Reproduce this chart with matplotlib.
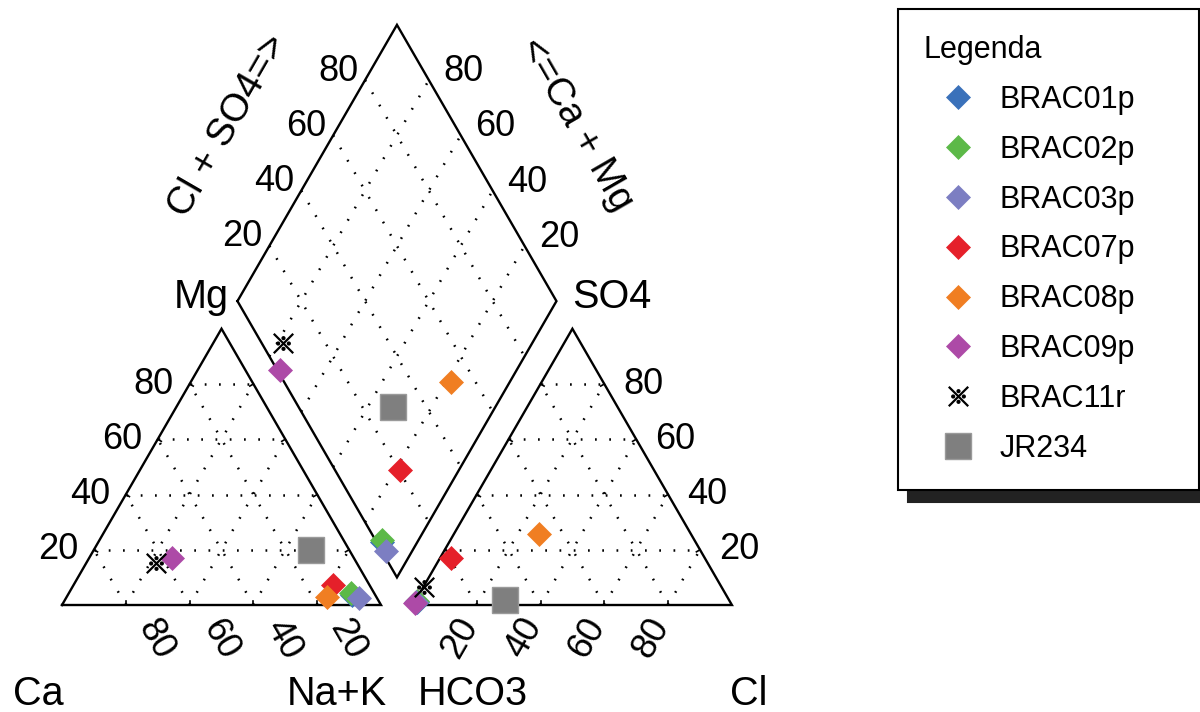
import numpy as np
import matplotlib
matplotlib.use('Agg')
import matplotlib.pyplot as plt
from matplotlib.lines import Line2D
from matplotlib.path import Path

plt.rcParams['font.family'] = ['Liberation Sans', 'DejaVu Sans']

# amostras (% meq)
samples = ['BRAC01p', 'BRAC02p', 'BRAC03p', 'BRAC07p', 'BRAC08p',
           'BRAC09p', 'BRAC11r', 'JR234']
ca = [7.5, 7.2, 5.5, 11.3, 15.4, 57.0, 63.0, 12.1]
mg = [3.5, 4.3, 2.5, 7.2, 2.9, 17.0, 15.2, 19.9]
nak = [89.0, 88.5, 92.0, 81.5, 81.7, 26.0, 21.8, 68.0]
hco3 = [98.2, 98.0, 98.6, 79.5, 47.7, 99.1, 93.2, 70.2]
so4 = [1.2, 1.5, 1.0, 17.0, 25.7, 0.8, 6.6, 1.8]
cl = [0.6, 0.5, 0.4, 3.5, 26.6, 0.1, 0.2, 28.0]
ticks = [20, 40, 60, 80]

colors = ['#3a71ba', '#5cb948', '#7c7ec2', '#e5202a', '#f07e22',
          '#ad4aa7', 'black', '#7f7f7f']

H = np.sqrt(3) / 2
GAP = 10


def tri_xy(right, apex, x0=0):
    """ponto num triangulo: componente do vertice direito e do apice"""
    right = np.asarray(right, float)
    apex = np.asarray(apex, float)
    return x0 + right + apex / 2, apex * H


def dia_xy(na, anion):
    """ponto no losango: Na+K e Cl+SO4"""
    na = np.asarray(na, float)
    anion = np.asarray(anion, float)
    lx, ly = 50 + GAP / 2, H * (100 + GAP)
    return lx + 0.5 * (anion + na), ly + H * (anion - na)


# marcador tipo "※"
mark_path = Path.make_compound_path(
    Path([(-1, -1), (1, 1)], [Path.MOVETO, Path.LINETO]),
    Path([(-1, 1), (1, -1)], [Path.MOVETO, Path.LINETO]),
    *[Path.circle(c, 0.1) for c in [(0, 0.55), (0, -0.55), (0.55, 0), (-0.55, 0)]])

fig = plt.figure(figsize=(12, 7.12), dpi=100)
ax = fig.add_axes([0, 0, 1, 1])
ax.set_xlim(-19.44, 356.74)
ax.set_ylim(-33.54, 189.66)
ax.axis('off')

grid = dict(color='black', lw=1.8, ls=(0, (0.7, 5)), zorder=1)
edge = dict(color='black', lw=1.7, zorder=2, solid_joinstyle='miter')

# grades dos triangulos
for x0 in [0, 100 + GAP]:
    for v in ticks:
        ax.plot(*tri_xy([0, 100 - v], [v, v], x0), **grid)
        ax.plot(*tri_xy([v, v], [0, 100 - v], x0), **grid)
        ax.plot(*tri_xy([100 - v, 0], [0, 100 - v], x0), **grid)
    ax.plot(*tri_xy([0, 100, 0, 0], [0, 0, 100, 0], x0), **edge)
    # pequenos tracos nas arestas
    verts = np.array([tri_xy(0, 0, x0), tri_xy(100, 0, x0), tri_xy(0, 100, x0)])
    cen = verts.mean(axis=0)
    for i in range(3):
        p0, p1 = verts[i], verts[(i + 1) % 3]
        d = (p1 - p0) / np.linalg.norm(p1 - p0)
        n = np.array([-d[1], d[0]])
        if np.dot(cen - p0, n) < 0:
            n = -n
        for t in ticks:
            p = p0 + (p1 - p0) * t / 100
            ax.plot([p[0], p[0] + 1.3 * n[0]], [p[1], p[1] + 1.3 * n[1]],
                    color='black', lw=1.2, zorder=2)

# grade do losango
for v in ticks:
    ax.plot(*dia_xy([0, 100], [v, v]), **grid)
    ax.plot(*dia_xy([v, v], [0, 100]), **grid)
ax.plot(*dia_xy([0, 100, 100, 0, 0], [0, 0, 100, 100, 0]), **edge)

# rotulos numericos
fs = 26
for v in ticks:
    x, y = tri_xy(0, v)
    ax.text(x - 5, y, str(v), ha='right', va='center', fontsize=fs)
    x, y = tri_xy(100 - v, 0)
    ax.text(x + 9.5, y - 11, str(v), ha='center', va='center',
            fontsize=fs, rotation=-60)
    x, y = tri_xy(v, 0, 100 + GAP)
    ax.text(x - 5.3, y - 10.3, str(v), ha='center', va='center',
            fontsize=fs, rotation=60)
    x, y = tri_xy(100 - v, v, 100 + GAP)
    ax.text(x + 6, y, str(v), ha='left', va='center', fontsize=fs)
    x, y = dia_xy(0, v)
    ax.text(x - 2.2, y + 2.8, str(v), ha='right', va='center', fontsize=fs)
    x, y = dia_xy(100 - v, 100)
    ax.text(x + 4.5, y + 2.7, str(v), ha='left', va='center', fontsize=fs)

ax.text(52.0, 150.2, 'Cl + SO4=>', rotation=60, ha='center', va='center',
        fontsize=28)
ax.text(161.1, 150.5, '<=Ca + Mg', rotation=-60, ha='center', va='center',
        fontsize=28)

vfs = 28.5
x, y = dia_xy(0, 0)
ax.text(x - 2.8, 93.1, 'Mg', ha='right', va='baseline', fontsize=vfs)
x, y = dia_xy(100, 100)
ax.text(x + 5, 93.1, 'SO4', ha='left', va='baseline', fontsize=vfs)
ax.text(-7.5, -31.3, 'Ca', ha='center', va='baseline', fontsize=vfs)
ax.text(100 - 14.0, -31.3, 'Na+K', ha='center', va='baseline', fontsize=vfs)
ax.text(110 + 18.8, -31.3, 'HCO3', ha='center', va='baseline', fontsize=vfs)
ax.text(210 + 5.4, -31.3, 'Cl', ha='center', va='baseline', fontsize=vfs)

# pontos
handles = []
for i, name in enumerate(samples):
    if name == 'BRAC11r':
        st = dict(marker=mark_path, ms=14, mfc='black', mec='black', mew=1.6)
    elif name == 'JR234':
        st = dict(marker='s', ms=19, mfc=colors[i], mec='#9a9a9a', mew=1)
    else:
        st = dict(marker='D', ms=12.5, mfc=colors[i], mec=colors[i], mew=0.5)
    xs1, ys1 = tri_xy(nak[i], mg[i])
    xs2, ys2 = tri_xy(cl[i], so4[i], 100 + GAP)
    xs3, ys3 = dia_xy(nak[i], cl[i] + so4[i])
    ax.plot([xs1, xs2, xs3], [ys1, ys2, ys3], ls='none', zorder=5 + i, **st)
    handles.append(Line2D([], [], ls='none', label=name, **st))

leg = fig.legend(handles=handles, title='Legenda', loc='upper left',
                 bbox_to_anchor=(898 / 1200, 0.5, 301 / 1200, 1 - 9 / 712 - 0.5),
                 mode='expand', borderaxespad=0, fontsize=22, title_fontsize=22,
                 alignment='left', frameon=True, fancybox=False, framealpha=1,
                 edgecolor='black', borderpad=0.85, labelspacing=0.65,
                 handlelength=2.2, handletextpad=0.26,
                 shadow={'ox': 7.2, 'oy': -8.5, 'facecolor': '#222222',
                         'edgecolor': '#222222', 'alpha': 1})
leg.get_frame().set_linewidth(1.5)

fig.savefig('out.png', dpi=100)
